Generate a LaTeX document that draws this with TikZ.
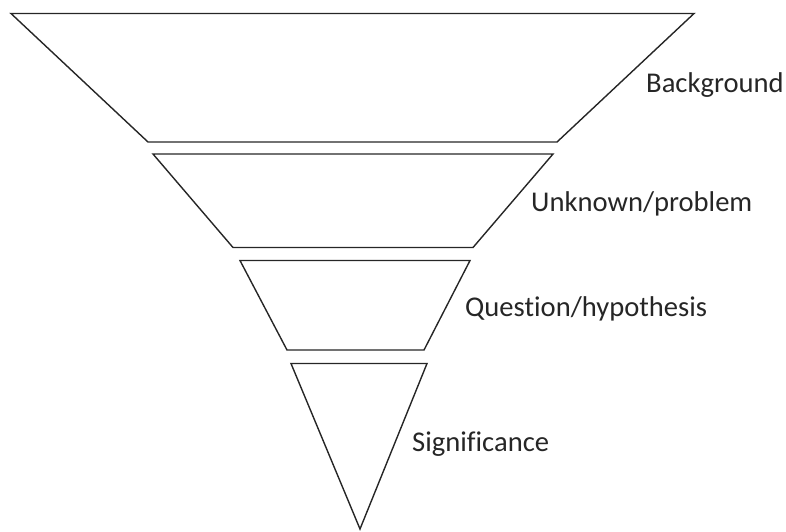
\documentclass[tikz,border=0pt]{standalone}
\usepackage{fontspec}
\setmainfont[Ligatures=NoCommon]{Carlito}
\begin{document}
\begin{tikzpicture}[x=1pt,y=-1pt,
  funnel/.style={draw=black!85, line width=1.4pt, line join=miter},
  lbl/.style={anchor=base west, inner sep=0pt, font=\fontsize{28.6}{32}\selectfont, text=black!85}]
\useasboundingbox (0,0) rectangle (786,531);
\draw[funnel] (11,13.5) -- (694,13.5) -- (557,142) -- (148,142) -- cycle;
\draw[funnel] (153,154) -- (553,154) -- (473,247.5) -- (233,247.5) -- cycle;
\draw[funnel] (240,260.5) -- (470,260.5) -- (424,350) -- (287,350) -- cycle;
\draw[funnel] (291,363.5) -- (427,363.5) -- (360,529) -- cycle;
\node[lbl] (bg) at (646,92) {Background};
\node[lbl] (up) at (531,211) {Unknown/problem};
\node[lbl] (qh) at (465,316) {Question/hypothesis};
\node[lbl] (sg) at (412,451) {Significance};
\end{tikzpicture}
\end{document}
